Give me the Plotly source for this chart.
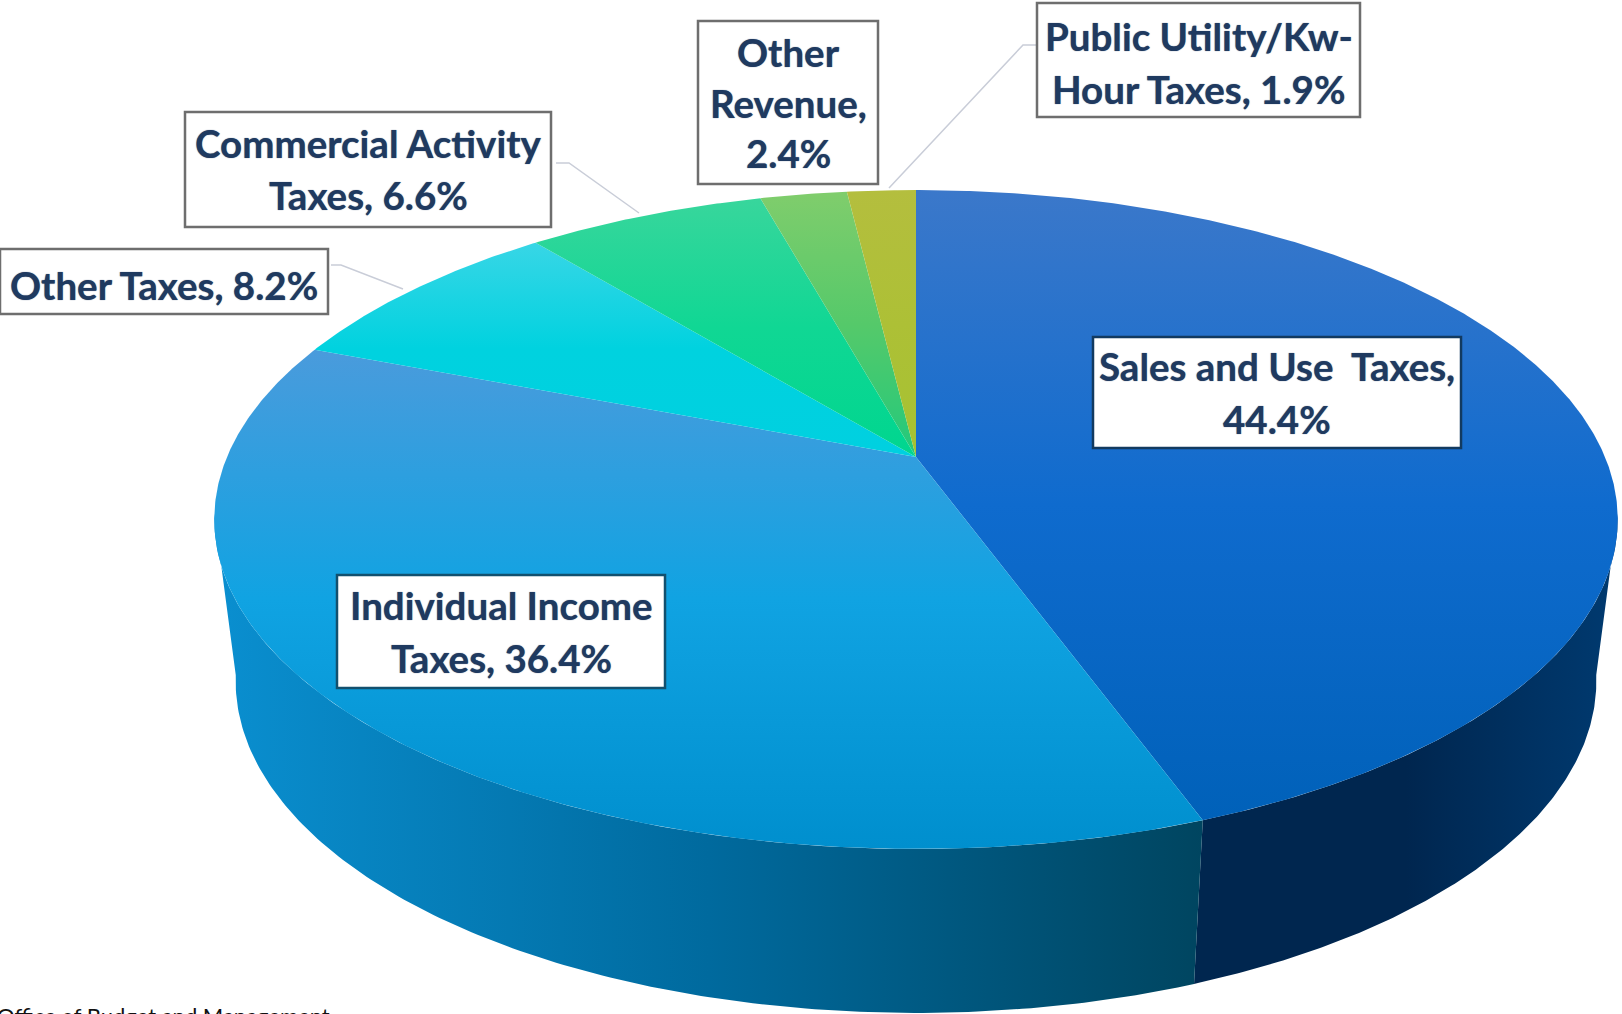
import numpy as np
import plotly.graph_objects as go

# ---- data ----
categories = ["Sales and Use Taxes", "Individual Income Taxes", "Other Taxes",
              "Commercial Activity Taxes", "Other Revenue", "Public Utility/Kw-Hour Taxes"]
values = [44.4, 36.4, 8.2, 6.6, 2.4, 1.9]
label_lines = [["Sales and Use  Taxes,", "44.4%"],
               ["Individual Income", "Taxes, 36.4%"],
               ["Other Taxes, 8.2%"],
               ["Commercial Activity", "Taxes, 6.6%"],
               ["Other", "Revenue,", "2.4%"],
               ["Public Utility/Kw-", "Hour Taxes, 1.9%"]]
source_text = "Office of Budget and Management"

# vertical gradient of each top face
top_colors = [["#3b78ca", "#0f6bce", "#0061b9"],
              ["#4a9bdc", "#10a3e2", "#008fce"],
              ["#38d6e6", "#00d2df", "#00d0e0"],
              ["#38d69c", "#10d794", "#00d68f"],
              ["#80cd6c", "#55c96a", "#22c97c"],
              ["#b4be3e", "#adc036", "#a6c232"]]
# horizontal gradient of each side face (left to right)
side_colors = [["#00264f", "#00264f", "#003a70"],
               ["#0a8fd0", "#006a9e", "#004560"]]

# ---- view geometry (perspective disc) ----
CX, CY = 916, 457
A, B, K = 317.6, 689, 0.1897
A2, B2, CY2 = 320, 668, 618
SIL = np.degrees(np.arccos(-K))     # angle where the outline is widest


def top_pt(deg):
    t = np.radians(deg)
    u, v = np.sin(t), np.cos(t)
    d = 1 + K * v
    return CX + B * u / d, CY - A * v / d


def bot_pt(deg):
    t = np.radians(deg)
    u, v = np.sin(t), np.cos(t)
    d = 1 + K * v
    return CX + B2 * u / d, CY2 - A2 * v / d


def scale(cols):
    return [[i / (len(cols) - 1), c] for i, c in enumerate(cols)]


# slice boundaries from the values
shares = np.array(values) / sum(values)
edges = np.concatenate([[0], np.cumsum(shares)]) * 360

fig = go.Figure()

# leader lines
leaders = [([556, 569, 639], [163, 163, 213]),
           ([331, 341, 403], [265, 265, 289]),
           ([1037, 1023, 889], [45, 45, 188])]
for lx, ly in leaders:
    fig.add_trace(go.Scatter(x=lx, y=ly, mode="lines", hoverinfo="skip",
                             line=dict(color="#c9cdd8", width=1.5)))

# side faces: from the right outline to the split, and from the split to the left outline
side_ranges = [(SIL - 1, edges[1]), (edges[1], 360 - SIL + 1)]
for (a0, a1), cols in zip(side_ranges, side_colors):
    ang = np.linspace(a0, a1, 160)
    tx, ty = top_pt(ang)
    bx, by = bot_pt(ang)
    x = np.concatenate([tx, bx[::-1], tx[:1]])
    y = np.concatenate([ty, by[::-1], ty[:1]])
    fig.add_trace(go.Scatter(
        x=x, y=y, mode="lines", line=dict(width=0), hoverinfo="skip",
        fill="toself",
        fillgradient=dict(type="horizontal", colorscale=scale(cols),
                          start=float(x.min()), stop=float(x.max()))))

# top faces
for i, name in enumerate(categories):
    ang = np.linspace(edges[i], edges[i + 1], max(8, int((edges[i + 1] - edges[i]) * 3)))
    ax_, ay_ = top_pt(ang)
    x = np.concatenate([[CX], ax_, [CX]])
    y = np.concatenate([[CY], ay_, [CY]])
    fig.add_trace(go.Scatter(
        x=x, y=y, mode="lines", line=dict(width=0), name=name, hoverinfo="name",
        fill="toself",
        fillgradient=dict(type="vertical", colorscale=scale(top_colors[i]),
                          start=float(y.min()), stop=float(y.max()))))

# label boxes: x0, x1, y0, y1, border colour
boxes = [(1093, 1461, 337, 448, "#123a60"),
         (337, 665, 575, 688, "#12506e"),
         (0, 328, 249, 314, "#6e6e6e"),
         (185, 551, 112, 227, "#6e6e6e"),
         (698, 878, 21, 184, "#6e6e6e"),
         (1037, 1360, 3, 117, "#6e6e6e")]
line_y = [[366, 419], [605, 658], [285], [143, 195], [52, 103, 153], [36, 89]]

shapes, annos = [], []
for (x0, x1, y0, y1, bc), lines, ys in zip(boxes, label_lines, line_y):
    shapes.append(dict(type="rect", x0=x0, x1=x1, y0=y0, y1=y1, layer="above",
                       fillcolor="white", line=dict(color=bc, width=2.5)))
    for t, yy in zip(lines, ys):
        annos.append(dict(x=(x0 + x1) / 2, y=yy, text=t, showarrow=False,
                          xanchor="center", yanchor="middle",
                          font=dict(family="Lato", size=38.5, color="#1f3a60", weight="bold",
                                    shadow="0 0 1px rgba(31,58,96,0.8)")))

annos.append(dict(x=0, y=1000, xshift=-5, text=source_text, showarrow=False,
                  xanchor="left", yanchor="top",
                  font=dict(family="Lato", size=22, color="#111111")))

fig.update_layout(
    width=1622, height=1014, margin=dict(l=0, r=0, t=0, b=0),
    paper_bgcolor="white", plot_bgcolor="white", showlegend=False,
    xaxis=dict(range=[0, 1622], visible=False),
    yaxis=dict(range=[1014, 0], visible=False),
    shapes=shapes, annotations=annos,
)
fig.write_html("out.html", config={"displayModeBar": False},
               post_script="document.body.style.margin='0';document.body.style.overflow='hidden';")
